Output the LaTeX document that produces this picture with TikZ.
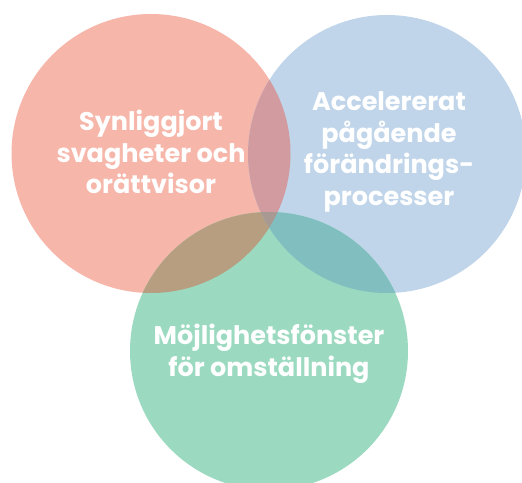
\documentclass[tikz,border=0pt]{standalone}
\usepackage{fontspec}
\setmainfont{Poppins}
\definecolor{cred}{HTML}{F6B6AA}
\definecolor{cblue}{HTML}{C0D5E9}
\definecolor{cgreen}{HTML}{9BDAC0}
\definecolor{crb}{HTML}{D29B9F}
\definecolor{crg}{HTML}{B79E80}
\definecolor{cbg}{HTML}{80BEBF}
\definecolor{crgb}{HTML}{A89A92}
\tikzset{
  lbl/.style={text=white, font=\fontsize{25.5}{31.5}\selectfont\bfseries, align=center, inner sep=0pt}
}
\begin{document}
\begin{tikzpicture}[x=1pt,y=-1pt]
\useasboundingbox (0,0) rectangle (522,482);
\begin{scope}
\clip (0,0) rectangle (522,482);
\def\rc{(151,153.5) circle[radius=139.5]}
\def\bc{(387,154) circle[radius=139]}
\def\gc{(269,351) circle[radius=139]}
\fill[cred] \rc;
\fill[cblue] \bc;
\fill[cgreen] \gc;
\begin{scope}\clip \rc; \fill[crb] \bc; \end{scope}
\begin{scope}\clip \rc; \fill[crg] \gc; \end{scope}
\begin{scope}\clip \bc; \fill[cbg] \gc; \end{scope}
\begin{scope}\clip \rc; \clip \bc; \fill[crgb] \gc; \end{scope}
\end{scope}
\node[lbl] (red) at (151,152) {Synliggjort\\svagheter och\\orättvisor};
\node[lbl] (blue) at (389,152) {Accelererat\\pågående\\förändrings-\\processer};
\node[lbl] (green) at (269,354) {Möjlighetsfönster\\för omställning};
\end{tikzpicture}
\end{document}
